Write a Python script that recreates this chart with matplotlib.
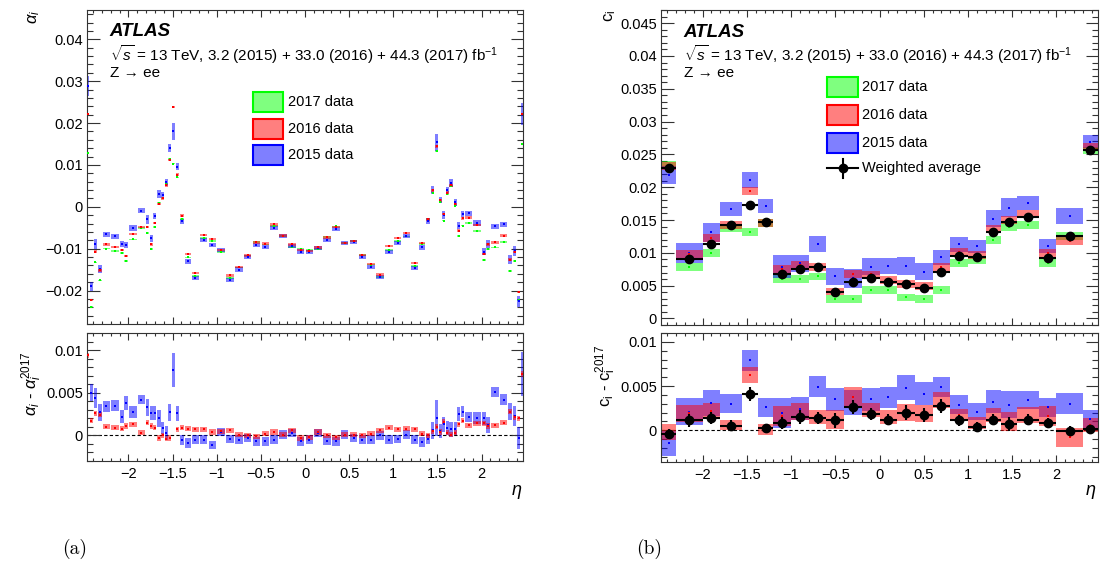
import numpy as np
import matplotlib
matplotlib.use("Agg")
import matplotlib.pyplot as plt
from matplotlib.ticker import MultipleLocator, FuncFormatter
from matplotlib.patches import Rectangle
from matplotlib.lines import Line2D

plt.rcParams['font.family'] = ['Liberation Sans', 'DejaVu Sans']
plt.rcParams['mathtext.fontset'] = 'custom'
plt.rcParams['mathtext.rm'] = 'Liberation Sans'
plt.rcParams['mathtext.it'] = 'Liberation Sans:italic'
plt.rcParams['mathtext.bf'] = 'Liberation Sans:bold'

# ---------------- alpha_i : 68 eta bins ----------------
alpha_edges = [-2.47, -2.44, -2.4, -2.35, -2.3, -2.2, -2.1, -2.05, -2.0, -1.9, -1.81,
               -1.76, -1.72, -1.68, -1.63, -1.59, -1.55, -1.51, -1.47, -1.42, -1.37,
               -1.285, -1.2, -1.1, -1.0, -0.9, -0.8, -0.7, -0.6, -0.5, -0.4, -0.3,
               -0.2, -0.1, 0.0, 0.1, 0.2, 0.3, 0.4, 0.5, 0.6, 0.7, 0.8, 0.9, 1.0,
               1.1, 1.2, 1.285, 1.37, 1.42, 1.47, 1.51, 1.55, 1.59, 1.63, 1.68, 1.72,
               1.76, 1.81, 1.9, 2.0, 2.05, 2.1, 2.2, 2.3, 2.35, 2.4, 2.44, 2.47]

# 2017 values
alpha_2017 = [0.0128, -0.0240, -0.0133, -0.0176, -0.0100, -0.0105, -0.0111, -0.0129, -0.0078, -0.0051,
              -0.0063, -0.0101, -0.0048, 0.0010, 0.0020, 0.0055, 0.0114, 0.0103, 0.0070, -0.0030,
              -0.0121, -0.0165, -0.0074, -0.0081, -0.0108, -0.0170, -0.0145, -0.0116, -0.0084, -0.0090,
              -0.0046, -0.0070, -0.0096, -0.0100,
              -0.0103, -0.0101, -0.0073, -0.0047, -0.0087, -0.0082, -0.0115, -0.0138, -0.0168, -0.0103,
              -0.0082, -0.0071, -0.0141, -0.0089, -0.0030, 0.0034, 0.0134, 0.0011, -0.0033, 0.0031,
              0.0050, 0.0003, -0.0070, -0.0045, -0.0038, -0.0058, -0.0127, -0.0101, -0.0097, -0.0084,
              -0.0154, -0.0129, -0.0223, 0.0150]

# differences to 2017
dalpha_2016 = [0.0094, 0.0017, 0.0026, 0.0024, 0.0010, 0.0009, 0.0008, 0.0011, 0.0013, 0.0003,
               0.0015, 0.0011, 0.0009, -0.0003, 0.0000, -0.0004, -0.0003, 0.0136, 0.0007, 0.0009,
               0.0008, 0.0007, 0.0007, 0.0004, 0.0005, 0.0006, 0.0001, 0.0000, -0.0001, 0.0002,
               0.0004, 0.0001, 0.0006, -0.0003,
               -0.0002, 0.0004, 0.0000, -0.0002, 0.0001, 0.0001, 0.0000, 0.0002, 0.0006, 0.0009,
               0.0007, 0.0008, 0.0007, 0.0002, 0.0000, 0.0005, 0.0010, 0.0004, 0.0016, 0.0003,
               0.0001, 0.0003, 0.0013, 0.0017, 0.0012, 0.0014, 0.0014, 0.0011, 0.0012, 0.0015,
               0.0028, 0.0021, 0.0020, 0.0072]
dalpha_2015 = [0.0161, 0.0050, 0.0044, 0.0027, 0.0034, 0.0035, 0.0022, 0.0038, 0.0027, 0.0042,
               0.0033, 0.0026, 0.0026, 0.0020, 0.0009, 0.0003, 0.0027, 0.0077, 0.0026, -0.0005,
               -0.0009, -0.0005, -0.0005, -0.0011, 0.0004, -0.0004, -0.0005, -0.0003, -0.0007, -0.0007,
               -0.0005, 0.0001, 0.0003, -0.0007,
               -0.0005, 0.0003, -0.0006, -0.0007, 0.0001, -0.0003, -0.0005, -0.0005, 0.0000, -0.0005,
               -0.0004, 0.0001, -0.0005, -0.0008, -0.0004, 0.0006, 0.0020, 0.0005, 0.0013, 0.0009,
               0.0007, 0.0008, 0.0025, 0.0028, 0.0022, 0.0020, 0.0020, 0.0012, 0.0051, 0.0042,
               0.0028, 0.0023, -0.0003, 0.0072]

# uncertainties (half heights of the boxes)
err_alpha_2015 = [0.0024, 0.0010, 0.0012, 0.0010, 0.0006, 0.0006, 0.0008, 0.0008, 0.0007, 0.0005,
                  0.0010, 0.0008, 0.0008, 0.0010, 0.0007, 0.0008, 0.0010, 0.0020, 0.0009, 0.0006,
                  0.0006, 0.0005, 0.0005, 0.0005, 0.0005, 0.0005, 0.0005, 0.0005, 0.0005, 0.0005,
                  0.0005, 0.0005, 0.0005, 0.0005,
                  0.0005, 0.0005, 0.0005, 0.0005, 0.0005, 0.0005, 0.0005, 0.0005, 0.0005, 0.0005,
                  0.0005, 0.0005, 0.0005, 0.0006, 0.0006, 0.0010, 0.0021, 0.0008, 0.0009, 0.0008,
                  0.0009, 0.0008, 0.0008, 0.0007, 0.0006, 0.0007, 0.0008, 0.0009, 0.0006, 0.0006,
                  0.0010, 0.0012, 0.0013, 0.0026]
err_alpha_2016 = 0.00028
err_alpha_2017 = 0.0002

# ---------------- c_i : 24 eta bins ----------------
c_edges = [-2.47, -2.3, -2.0, -1.8, -1.55, -1.37, -1.2, -1.0, -0.8, -0.6, -0.4, -0.2, 0.0,
           0.2, 0.4, 0.6, 0.8, 1.0, 1.2, 1.37, 1.55, 1.8, 2.0, 2.3, 2.47]
c_2017 = [0.0234, 0.0079, 0.0100, 0.0137, 0.0132, 0.0145, 0.0060, 0.0060, 0.0064, 0.0029, 0.0030, 0.0044,
          0.0043, 0.0032, 0.0030, 0.0044, 0.0084, 0.0089, 0.0120, 0.0140, 0.0142, 0.0084, 0.0126, 0.0256]
dc_2016 = [-0.0002, 0.0019, 0.0022, 0.0006, 0.0062, 0.0001, 0.0016, 0.0021, 0.0015, 0.0012, 0.0038, 0.0023,
           0.0015, 0.0020, 0.0019, 0.0034, 0.0017, 0.0008, 0.0017, 0.0010, 0.0017, 0.0016, -0.0008, 0.0006]
dc_2015 = [-0.0015, 0.0021, 0.0031, 0.0030, 0.0079, 0.0026, 0.0019, 0.0024, 0.0049, 0.0035, 0.0031, 0.0035,
           0.0037, 0.0048, 0.0041, 0.0049, 0.0029, 0.0021, 0.0032, 0.0029, 0.0034, 0.0026, 0.0030, 0.0013]
dc_avg = [-0.0004, 0.0011, 0.0014, 0.0005, 0.0041, 0.0002, 0.0008, 0.0015, 0.0014, 0.0011, 0.0026, 0.0018,
          0.0012, 0.0020, 0.0017, 0.0027, 0.0011, 0.0004, 0.0012, 0.0007, 0.0012, 0.0008, -0.0001, 0.0001]
err_c_2015 = [0.0014, 0.0015, 0.0015, 0.0011, 0.0012, 0.0011, 0.0017, 0.0013, 0.0012, 0.0013, 0.0014, 0.0013,
              0.0012, 0.0014, 0.0013, 0.0011, 0.0011, 0.0010, 0.0013, 0.0015, 0.0010, 0.0011, 0.0012, 0.0010]
err_dc_2016 = [0.0009, 0.0010, 0.0009, 0.0006, 0.0009, 0.0006, 0.0011, 0.0010, 0.0008, 0.0011, 0.0011, 0.0008,
               0.0008, 0.0010, 0.0010, 0.0009, 0.0007, 0.0007, 0.0008, 0.0011, 0.0009, 0.0011, 0.0011, 0.0008]
err_dc_avg = [0.0005, 0.0007, 0.0007, 0.0006, 0.0008, 0.0005, 0.0007, 0.0008, 0.0007, 0.0009, 0.0008, 0.0007,
              0.0006, 0.0008, 0.0008, 0.0008, 0.0006, 0.0005, 0.0006, 0.0008, 0.0006, 0.0006, 0.0006, 0.0004]
err_c_2016 = 0.0006
err_c_2017 = 0.0006
err_c_avg = 0.0003

GREEN, RED, BLUE = (0, 1, 0), (1, 0, 0), (0, 0, 1)

W, H = 1106, 567
fig = plt.figure(figsize=(W / 100, H / 100), dpi=100)


def frac(x0, y0, x1, y1):
    return [x0 / W, 1 - y1 / H, (x1 - x0) / W, (y1 - y0) / H]


axLt = fig.add_axes(frac(87, 10, 523, 324))
axLb = fig.add_axes(frac(87, 333, 523, 461))
axRt = fig.add_axes(frac(661, 10, 1098, 325))
axRb = fig.add_axes(frac(661, 333, 1098, 462))


def tick_fmt(v, pos):
    v = round(v, 5)
    if v == 0:
        return '0'
    return f'{v:g}'.replace('-', '\u2212')


def style(ax, ymajor, yminor, xlabels):
    ax.set_xlim(-2.47, 2.47)
    ax.xaxis.set_major_locator(MultipleLocator(0.5))
    ax.xaxis.set_minor_locator(MultipleLocator(0.1))
    ax.yaxis.set_major_locator(MultipleLocator(ymajor))
    ax.yaxis.set_minor_locator(MultipleLocator(yminor))
    ax.yaxis.set_major_formatter(FuncFormatter(tick_fmt))
    ax.xaxis.set_major_formatter(FuncFormatter(tick_fmt))
    ax.tick_params(which='both', direction='in', top=True, right=True, labelsize=10.5,
                   width=0.8, color='#333333')
    ax.tick_params(axis='y', which='major', length=9, pad=3)
    ax.tick_params(axis='y', which='minor', length=4.5)
    ax.tick_params(axis='x', which='major', length=5, pad=4)
    ax.tick_params(axis='x', which='minor', length=2.5)
    if not xlabels:
        ax.tick_params(axis='x', labelbottom=False)
    for s in ax.spines.values():
        s.set_linewidth(0.8)
        s.set_color('#333333')


def boxes(ax, edges, vals, errs, color, frac_w=1.0, dot=1.6):
    edges = np.asarray(edges)
    centers = 0.5 * (edges[1:] + edges[:-1])
    widths = (edges[1:] - edges[:-1]) * frac_w
    vals = np.asarray(vals)
    errs = np.broadcast_to(np.asarray(errs, dtype=float), vals.shape)
    ax.bar(centers, 2 * errs, width=widths, bottom=vals - errs, color=color,
           alpha=0.5, linewidth=0, zorder=2)
    ax.plot(centers, vals, ls='none', marker='s', ms=dot, mew=0, color=color, zorder=3)


# ---------------- left: alpha_i ----------------
a17 = np.array(alpha_2017)
a16 = a17 + np.array(dalpha_2016)
a15 = a17 + np.array(dalpha_2015)

boxes(axLt, alpha_edges, a17, err_alpha_2017, GREEN, 0.85)
boxes(axLt, alpha_edges, a15, err_alpha_2015, BLUE, 0.85)
boxes(axLt, alpha_edges, a16, err_alpha_2016, RED, 0.85)
axLt.set_ylim(-0.028, 0.047)
style(axLt, 0.01, 0.002, False)

boxes(axLb, alpha_edges, dalpha_2015, err_alpha_2015, BLUE, 0.85)
boxes(axLb, alpha_edges, dalpha_2016, 0.0003, RED, 0.85)
axLb.axhline(0, color='k', lw=0.8, ls=(0, (3, 2)), zorder=1)
axLb.set_ylim(-0.003, 0.012)
style(axLb, 0.005, 0.001, True)

# ---------------- right: c_i ----------------
c17 = np.array(c_2017)
c16 = c17 + np.array(dc_2016)
c15 = c17 + np.array(dc_2015)
cavg = c17 + np.array(dc_avg)
ce = np.asarray(c_edges)
cc = 0.5 * (ce[1:] + ce[:-1])
chw = 0.5 * (ce[1:] - ce[:-1])

boxes(axRt, c_edges, c17, err_c_2017, GREEN)
boxes(axRt, c_edges, c15, err_c_2015, BLUE)
boxes(axRt, c_edges, c16, err_c_2016, RED)
axRt.errorbar(cc, cavg, xerr=chw, yerr=err_c_avg, fmt='o', color='k', ms=6,
              elinewidth=1.5, capsize=0, zorder=5)
axRt.set_ylim(-0.001, 0.047)
style(axRt, 0.005, 0.001, False)

boxes(axRb, c_edges, dc_2015, err_c_2015, BLUE)
boxes(axRb, c_edges, dc_2016, err_dc_2016, RED)
axRb.errorbar(cc, dc_avg, xerr=chw, yerr=err_dc_avg, fmt='o', color='k', ms=6,
              elinewidth=1.5, capsize=0, zorder=5)
axRb.axhline(0, color='k', lw=0.8, ls=(0, (3, 2)), zorder=1)
axRb.set_ylim(-0.0036, 0.011)
style(axRb, 0.005, 0.001, True)

# ---------------- labels ----------------
for ax in (axLt, axRt):
    ax.text(0.052, 0.93, 'ATLAS', transform=ax.transAxes, fontsize=13.5,
            fontweight='bold', fontstyle='italic', va='center')
    ax.text(0.052, 0.858, r'$\sqrt{s}$ = 13 TeV, 3.2 (2015) + 33.0 (2016) + 44.3 (2017) fb$^{-1}$',
            transform=ax.transAxes, fontsize=11, va='center')
    ax.text(0.052, 0.8, 'Z \u2192 ee', transform=ax.transAxes, fontsize=11, va='center')


def legend_box(ax, x, y, color, label):
    ax.add_patch(Rectangle((x, y - 0.032), 0.069, 0.064, transform=ax.transAxes,
                           facecolor=color + (0.5,), edgecolor=color, lw=1.5, zorder=6))
    ax.text(x + 0.08, y, label, transform=ax.transAxes, fontsize=10.5, va='center')


for ax, ys in ((axLt, (0.707, 0.621, 0.538)), (axRt, (0.756, 0.667, 0.578))):
    legend_box(ax, 0.381, ys[0], GREEN, '2017 data')
    legend_box(ax, 0.381, ys[1], RED, '2016 data')
    legend_box(ax, 0.381, ys[2], BLUE, '2015 data')

ywa = 0.498
axRt.add_line(Line2D([0.381, 0.45], [ywa, ywa], transform=axRt.transAxes, color='k', lw=1.5))
axRt.add_line(Line2D([0.4155, 0.4155], [ywa - 0.03, ywa + 0.03], transform=axRt.transAxes,
                     color='k', lw=1.5))
axRt.plot([0.4155], [ywa], 'o', color='k', ms=6, transform=axRt.transAxes)
axRt.text(0.461, ywa, 'Weighted average', transform=axRt.transAxes, fontsize=10.5, va='center')

fig.text(34 / W, 1 - 10 / H, r'$\alpha_{i}$', rotation=90, ha='center', va='top', fontsize=12)
fig.text(32 / W, 1 - 384 / H, r'$\alpha_{i}$ - $\alpha_{i}^{2017}$', rotation=90,
         ha='center', va='center', fontsize=12)
fig.text(610 / W, 1 - 10 / H, r'c$_{\mathrm{i}}$', rotation=90, ha='center', va='top', fontsize=12)
fig.text(606 / W, 1 - 376 / H, r'c$_{\mathrm{i}}$ - c$_{\mathrm{i}}^{2017}$', rotation=90,
         ha='center', va='center', fontsize=12)
fig.text(517 / W, 1 - 492 / H, r'$\eta$', ha='center', va='center', fontsize=13)
fig.text(1091 / W, 1 - 492 / H, r'$\eta$', ha='center', va='center', fontsize=13)

fig.text(75 / W, 1 - 549 / H, '(a)', family='cmr10', fontsize=14, ha='center', va='center')
fig.text(649 / W, 1 - 549 / H, '(b)', family='cmr10', fontsize=14, ha='center', va='center')

fig.savefig('out.png', dpi=100)
